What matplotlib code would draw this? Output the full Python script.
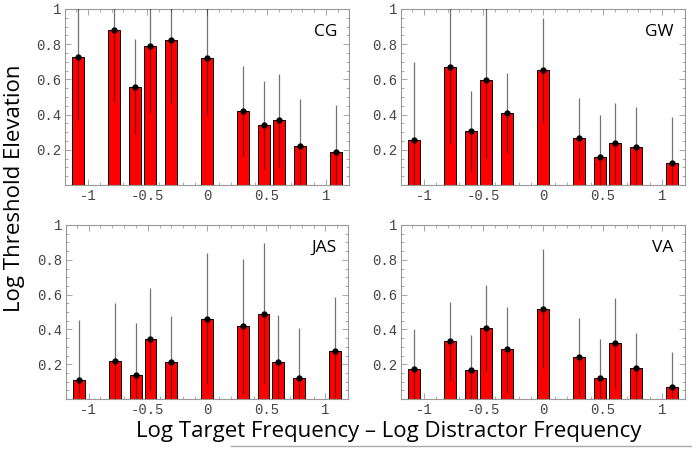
import numpy as np
import matplotlib
matplotlib.use("Agg")
import matplotlib.pyplot as plt
from matplotlib.ticker import MultipleLocator, FuncFormatter
from matplotlib.lines import Line2D

plt.rcParams['axes.unicode_minus'] = False

# frequency ratios target/distractor -> log10 positions
ratios = [1/12, 1/6, 1/4, 1/3, 1/2, 1, 2, 3, 4, 6, 12]
xpos = np.log10(ratios)

observers = ["CG", "GW", "JAS", "VA"]

cg = [0.73, 0.88, 0.558, 0.79, 0.825, 0.72, 0.42, 0.34, 0.367, 0.22, 0.187]
cg_err = [0.36, 0.41, 0.27, 0.38, 0.36, 0.32, 0.256, 0.25, 0.265, 0.27, 0.27]

gw = [0.253, 0.669, 0.305, 0.596, 0.41, 0.651, 0.265, 0.16, 0.238, 0.215, 0.126]
gw_err = [0.446, 0.435, 0.228, 0.444, 0.228, 0.30, 0.23, 0.24, 0.229, 0.227, 0.26]

jas = [0.108, 0.217, 0.137, 0.346, 0.213, 0.462, 0.417, 0.49, 0.213, 0.119, 0.277]
jas_err = [0.346, 0.337, 0.30, 0.294, 0.264, 0.375, 0.387, 0.406, 0.267, 0.287, 0.311]

va = [0.175, 0.331, 0.167, 0.408, 0.285, 0.519, 0.242, 0.121, 0.323, 0.181, 0.069]
va_err = [0.225, 0.229, 0.20, 0.246, 0.246, 0.343, 0.225, 0.221, 0.258, 0.196, 0.20]

values = [cg, gw, jas, va]
errors = [cg_err, gw_err, jas_err, va_err]

fig = plt.figure(figsize=(6.92, 4.51), dpi=100)
W, H = 692.0, 451.0
# panel frames in pixels: (left, top, right, bottom)
frames = [(65, 9, 349, 185), (401, 9, 685, 185),
          (66, 225, 348, 399), (401, 225, 685, 399)]

def fmt(v, pos):
    if abs(v - round(v)) < 1e-9:
        return "%d" % round(v)
    return ("%.1f" % v)

for i, name in enumerate(observers):
    l, t, r, b = frames[i]
    ax = fig.add_axes([l / W, 1 - b / H, (r - l) / W, (b - t) / H])
    v = np.array(values[i])
    e = np.array(errors[i])
    ax.bar(xpos, v, width=0.1, color='#ff0000', edgecolor='black', linewidth=0.7, zorder=2)
    ax.vlines(xpos, v - e, v + e, color='black', alpha=0.55, linewidth=0.9, zorder=3)
    ax.plot(xpos, v, 'o', color='black', markersize=3.5, zorder=4)
    ax.set_xlim(-1.19, 1.19)
    ax.set_ylim(0, 1)
    ax.xaxis.set_major_locator(MultipleLocator(0.5))
    ax.xaxis.set_minor_locator(MultipleLocator(0.1))
    ax.set_yticks([0.2, 0.4, 0.6, 0.8, 1.0])
    ax.yaxis.set_minor_locator(MultipleLocator(0.05))
    ax.xaxis.set_major_formatter(FuncFormatter(fmt))
    ax.yaxis.set_major_formatter(FuncFormatter(fmt))
    ax.tick_params(which='both', direction='in', top=True, right=True,
                   color='#999999', width=0.6)
    ax.tick_params(which='major', length=4, labelsize=10, labelcolor='#444444', pad=3)
    ax.tick_params(which='minor', length=2)
    for lab in ax.get_xticklabels() + ax.get_yticklabels():
        lab.set_family('Liberation Mono')
    for s in ax.spines.values():
        s.set_color('#999999')
        s.set_linewidth(0.8)
    ax.text(0.96, 0.87, name, transform=ax.transAxes, ha='right', va='center',
            fontsize=12.5, family='Open Sans')

fig.text(15 / W, 1 - 188 / H, "Log Threshold Elevation", rotation=90,
         ha='center', va='center', fontsize=16, family='Open Sans')
fig.text(389 / W, 1 - 432 / H, "Log Target Frequency \u2013 Log Distractor Frequency",
         ha='center', va='center', fontsize=16, family='Open Sans')
fig.add_artist(Line2D([231 / W, 1.0], [1 - 446 / H, 1 - 446 / H],
                      transform=fig.transFigure, color='#aaaaaa', linewidth=1))

fig.savefig('out.png', dpi=100)
